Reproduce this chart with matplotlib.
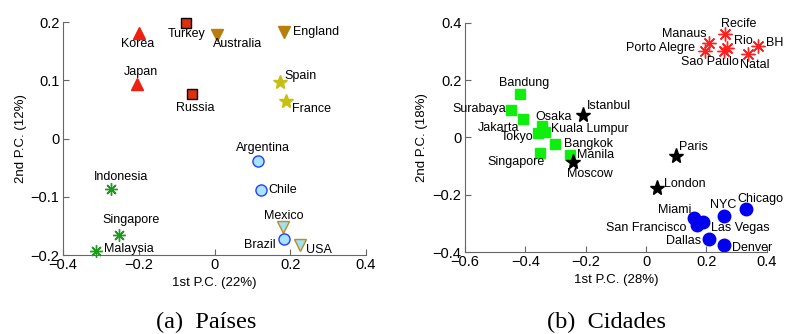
import matplotlib
matplotlib.use("Agg")
import matplotlib.pyplot as plt

# (a) Países
paises = ["Korea", "Turkey", "Australia", "England", "Japan", "Russia",
          "Spain", "France", "Argentina", "Chile", "Mexico", "Brazil", "USA",
          "Indonesia", "Singapore", "Malaysia"]
paises_x = [-0.20, -0.075, 0.007, 0.183, -0.205, -0.06,
            0.173, 0.189, 0.115, 0.123, 0.18, 0.183, 0.226,
            -0.273, -0.252, -0.313]
paises_y = [0.181, 0.198, 0.178, 0.183, 0.094, 0.076,
            0.097, 0.064, -0.039, -0.088, -0.152, -0.172, -0.183,
            -0.087, -0.166, -0.193]
paises_grupo = ["asia_tri", "sq", "anglo", "anglo", "asia_tri", "sq",
                "euro", "euro", "latam", "latam", "na", "latam", "na",
                "sea", "sea", "sea"]

# (b) Cidades
cidades = ["Recife", "Manaus", "Rio", "BH", "Porto Alegre", "Sao Paulo", "Natal",
           "Bandung", "Surabaya", "Jakarta", "Osaka", "Kuala Lumpur", "Tokyo",
           "Bangkok", "Singapore", "Manila",
           "Istanbul", "Moscow", "Paris", "London",
           "Chicago", "NYC", "Miami", "San Francisco", "Las Vegas", "Dallas", "Denver"]
cidades_x = [0.261, 0.208, 0.267, 0.370, 0.197, 0.257, 0.337,
             -0.418, -0.448, -0.408, -0.343, -0.336, -0.357,
             -0.30, -0.352, -0.253,
             -0.21, -0.243, 0.10, 0.036,
             0.33, 0.257, 0.158, 0.168, 0.19, 0.208, 0.257]
cidades_y = [0.361, 0.33, 0.312, 0.319, 0.30, 0.301, 0.29,
             0.151, 0.095, 0.063, 0.04, 0.02, 0.015,
             -0.024, -0.055, -0.062,
             0.077, -0.087, -0.066, -0.177,
             -0.251, -0.273, -0.283, -0.306, -0.296, -0.356, -0.376]
cidades_grupo = ["br"] * 7 + ["asia"] * 9 + ["eu"] * 4 + ["us"] * 7

estilos = {
    "asia_tri": dict(marker="^", ms=9, mfc="#ee2010", mec="#ee2010"),
    "sq": dict(marker="s", ms=6.5, mfc="#dd3010", mec="black", mew=1.0),
    "anglo": dict(marker="v", ms=9, mfc="#b87d0a", mec="#b87d0a"),
    "euro": dict(marker="*", ms=10.5, mfc="#c8c010", mec="#c8c010"),
    "latam": dict(marker="o", ms=8, mfc="#a8e4ff", mec="#2040ff", mew=1.0),
    "na": dict(marker="v", ms=9, mfc="#a0e0f0", mec="#c08a20", mew=1.0),
    "sea": dict(marker=(8, 2, 0), ms=9, mec="#1e9a1e", mew=1.0),
    "br": dict(marker=(8, 2, 0), ms=10, mec="#ff2020", mew=1.0),
    "asia": dict(marker="s", ms=7, mfc="#10ee10", mec="#10ee10"),
    "eu": dict(marker="*", ms=11, mfc="black", mec="black"),
    "us": dict(marker="o", ms=9, mfc="#0000ee", mec="#0000ee"),
}

# deslocamento dos rótulos em pixels (dx, dy para baixo) e alinhamento
rot_paises = {
    "Korea": (-1, 11, "center"), "Turkey": (0, 11, "center"),
    "Australia": (-4, 9, "left"), "England": (9, 0, "left"),
    "Japan": (4, -12, "center"), "Russia": (3, 14, "center"),
    "Spain": (4, -6, "left"), "France": (6, 8, "left"),
    "Argentina": (5, -13, "center"), "Chile": (7, 0, "left"),
    "Mexico": (1, -11, "center"), "Brazil": (-8, 6, "right"),
    "USA": (6, 5, "left"), "Indonesia": (10, -12, "center"),
    "Singapore": (12, -15, "center"), "Malaysia": (8, -2, "left"),
}
rot_cidades = {
    "Recife": (14, -10, "center"), "Manaus": (-2, -9, "right"),
    "Rio": (7, -7, "left"), "BH": (8, -3, "left"),
    "Porto Alegre": (-10, -3, "right"), "Sao Paulo": (15, 11, "right"),
    "Natal": (7, 11, "center"), "Bandung": (4, -11, "center"),
    "Surabaya": (-5, -1, "right"), "Jakarta": (-4, 9, "right"),
    "Osaka": (11, -9, "center"), "Kuala Lumpur": (6, -3, "left"),
    "Tokyo": (-5, 4, "right"), "Bangkok": (9, 0, "left"),
    "Singapore": (-24, 9, "center"), "Manila": (7, 0, "left"),
    "Istanbul": (4, -9, "left"), "Moscow": (17, 12, "center"),
    "Paris": (3, -9, "left"), "London": (7, -4, "left"),
    "Chicago": (15, -10, "center"), "NYC": (0, -11, "center"),
    "Miami": (-2, -8, "right"), "San Francisco": (-10, 3, "right"),
    "Las Vegas": (8, 6, "left"), "Dallas": (-8, 2, "right"),
    "Denver": (8, 3, "left"),
}

plt.rcParams["font.family"] = ["Liberation Sans", "DejaVu Sans"]

fig = plt.figure(figsize=(7.88, 3.34), dpi=100)
ax1 = fig.add_axes([0.080, 0.2365, 0.3845, 0.6976])
ax2 = fig.add_axes([0.590, 0.2455, 0.383, 0.6865])


def desenha(ax, nomes, xs, ys, grupos, rotulos):
    for n, x, y, g in zip(nomes, xs, ys, grupos):
        ax.plot([x], [y], ls="none", clip_on=False, **estilos[g])
        dx, dy, ha = rotulos[n]
        ax.annotate(n, (x, y), xytext=(dx, -dy), textcoords="offset pixels",
                    ha=ha, va="center", fontsize=9)


desenha(ax1, paises, paises_x, paises_y, paises_grupo, rot_paises)
desenha(ax2, cidades, cidades_x, cidades_y, cidades_grupo, rot_cidades)

ax1.set_xlim(-0.4, 0.4)
ax1.set_ylim(-0.2, 0.2)
ax1.set_xticks([-0.4, -0.2, 0, 0.2, 0.4])
ax1.set_yticks([-0.2, -0.1, 0, 0.1, 0.2])
ax1.set_xticklabels(["\u22120.4", "\u22120.2", "0", "0.2", "0.4"])
ax1.set_yticklabels(["\u22120.2", "\u22120.1", "0", "0.1", "0.2"])
ax1.set_xlabel("1st P.C. (22%)", fontsize=9.5, labelpad=3)
ax1.set_ylabel("2nd P.C. (12%)", fontsize=9.5, labelpad=3)

ax2.set_xlim(-0.6, 0.4)
ax2.set_ylim(-0.4, 0.4)
ax2.set_xticks([-0.6, -0.4, -0.2, 0, 0.2, 0.4])
ax2.set_yticks([-0.4, -0.2, 0, 0.2, 0.4])
ax2.set_xticklabels(["\u22120.6", "\u22120.4", "\u22120.2", "0", "0.2", "0.4"])
ax2.set_yticklabels(["\u22120.4", "\u22120.2", "0", "0.2", "0.4"])
ax2.set_xlabel("1st P.C. (28%)", fontsize=9.5, labelpad=3)
ax2.set_ylabel("2nd P.C. (18%)", fontsize=9.5, labelpad=3)

for ax in (ax1, ax2):
    ax.spines["top"].set_visible(False)
    ax.spines["right"].set_visible(False)
    ax.spines["left"].set_color("#666666")
    ax.spines["bottom"].set_color("#666666")
    ax.tick_params(direction="in", length=4, labelsize=10.5, pad=2.5,
                   color="#666666")
    ax.patch.set_alpha(0)

fig.text(0.262, 0.036, "(a)  Países", ha="center", va="center",
         fontsize=17.5, family=["Liberation Serif", "DejaVu Serif"])
fig.text(0.770, 0.036, "(b)  Cidades", ha="center", va="center",
         fontsize=17.5, family=["Liberation Serif", "DejaVu Serif"])

fig.savefig("out.png", dpi=100)
